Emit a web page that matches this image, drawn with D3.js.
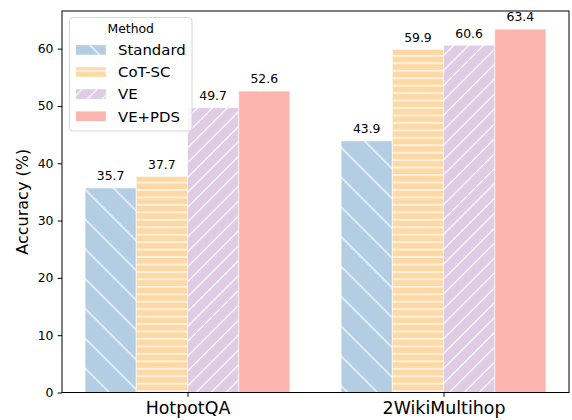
<!DOCTYPE html>
<html lang="en">
<head>
    <meta charset="UTF-8">
    <title>Accuracy by Method</title>
    <script src="https://d3js.org/d3.v7.min.js"></script>
    <style>
        body { margin: 0; background: #fff; }
        text { font-family: "DejaVu Sans", sans-serif; fill: #000; }
    </style>
</head>
<body>
    <svg width="572" height="420"></svg>
    <script>
        // data
        const datasets = ["HotpotQA", "2WikiMultihop"];
        const methods = ["Standard", "CoT-SC", "VE", "VE+PDS"];
        const standard = [35.7, 43.9];
        const cotsc = [37.7, 59.9];
        const ve = [49.7, 60.6];
        const vepds = [52.6, 63.4];
        const yTicks = [0, 10, 20, 30, 40, 50, 60];

        const series = [standard, cotsc, ve, vepds];
        const colors = ["#b3cde3", "#fed9a6", "#decbe4", "#fbb4ae"];
        const hatches = ["back", "horiz", "fwd", null];
        const barW = 0.2;

        const svg = d3.select("svg");
        const plotL = 62, plotR = 569, plotT = 11, plotB = 392.5;

        const x = d3.scaleLinear().domain([-0.49, 1.49]).range([plotL, plotR]);
        const y = d3.scaleLinear().domain([0, 66.57]).range([plotB, plotT]);

        // hatch patterns (white lines)
        const defs = svg.append("defs");
        function diag(id, spacing, angle) {
            const w = spacing / Math.SQRT2;
            const p = defs.append("pattern").attr("id", id)
                .attr("patternUnits", "userSpaceOnUse")
                .attr("width", w).attr("height", 10)
                .attr("patternTransform", `rotate(${angle})`);
            p.append("line").attr("x1", w / 2).attr("x2", w / 2)
                .attr("y1", -1).attr("y2", 11)
                .attr("stroke", "#fff").attr("stroke-width", 1.2);
        }
        diag("back", 29.8, -45);
        diag("fwd", 14.9, 45);
        const hp = defs.append("pattern").attr("id", "horiz")
            .attr("patternUnits", "userSpaceOnUse")
            .attr("width", 10).attr("height", 7.45);
        hp.append("line").attr("x1", -1).attr("x2", 11)
            .attr("y1", 3.7).attr("y2", 3.7)
            .attr("stroke", "#fff").attr("stroke-width", 1.2);

        // bars
        series.forEach((vals, i) => {
            const off = (i - 1.5) * barW;
            const g = svg.append("g");
            vals.forEach((v, j) => {
                const x0 = x(j + off - barW / 2), x1 = x(j + off + barW / 2);
                g.append("rect")
                    .attr("x", x0).attr("y", y(v))
                    .attr("width", x1 - x0).attr("height", y(0) - y(v))
                    .attr("fill", colors[i]);
                if (hatches[i]) {
                    g.append("rect")
                        .attr("x", x0).attr("y", y(v))
                        .attr("width", x1 - x0).attr("height", y(0) - y(v))
                        .attr("fill", `url(#${hatches[i]})`);
                }
                g.append("rect")
                    .attr("x", x0).attr("y", y(v))
                    .attr("width", x1 - x0).attr("height", y(0) - y(v))
                    .attr("fill", "none").attr("stroke", "#fff").attr("stroke-opacity", 0.6)
                    .attr("stroke-width", 1);
                g.append("text")
                    .attr("x", (x0 + x1) / 2).attr("y", y(v) - 7.7)
                    .attr("text-anchor", "middle")
                    .attr("font-size", 12.4)
                    .text(v.toFixed(1));
            });
        });

        // axes
        const yAxis = svg.append("g").attr("transform", `translate(${plotL},0)`)
            .call(d3.axisLeft(y).tickValues(yTicks).tickSize(4.3).tickPadding(4.3).tickFormat(d3.format("d")));
        yAxis.select(".domain").remove();
        yAxis.selectAll("text").attr("font-size", 12.4).style("font-family", "DejaVu Sans");
        yAxis.selectAll("line").attr("stroke", "#000");

        const xAxis = svg.append("g").attr("transform", `translate(0,${plotB})`)
            .call(d3.axisBottom(x).tickValues([0, 1]).tickSize(4.3).tickPadding(5).tickFormat(d => datasets[d]));
        xAxis.select(".domain").remove();
        xAxis.selectAll("text").attr("font-size", 17.4).style("font-family", "DejaVu Sans");
        xAxis.selectAll("line").attr("stroke", "#000");

        svg.append("rect")
            .attr("x", plotL).attr("y", plotT)
            .attr("width", plotR - plotL).attr("height", plotB - plotT)
            .attr("fill", "none").attr("stroke", "#000").attr("stroke-width", 1);

        svg.append("text")
            .attr("transform", `translate(28,${(plotT + plotB) / 2}) rotate(-90)`)
            .attr("text-anchor", "middle")
            .attr("font-size", 16)
            .text("Accuracy (%)");

        // legend
        const lg = svg.append("g");
        lg.append("rect")
            .attr("x", 69.5).attr("y", 17.5).attr("width", 122.5).attr("height", 113.5)
            .attr("rx", 3.5).attr("fill", "#fff").attr("fill-opacity", 0.8)
            .attr("stroke", "#d6d6d6").attr("stroke-width", 1);
        lg.append("text")
            .attr("x", 130.7).attr("y", 33.3)
            .attr("text-anchor", "middle").attr("font-size", 12.4)
            .text("Method");
        methods.forEach((m, i) => {
            const cy = 49.9 + i * 22.1;
            lg.append("rect").attr("x", 76).attr("y", cy - 4.8)
                .attr("width", 29.8).attr("height", 9.6).attr("fill", colors[i]);
            if (hatches[i]) {
                lg.append("rect").attr("x", 76).attr("y", cy - 4.8)
                    .attr("width", 29.8).attr("height", 9.6).attr("fill", `url(#${hatches[i]})`);
            }
            lg.append("text")
                .attr("x", 118).attr("y", cy + 5.3)
                .attr("font-size", 14.9)
                .text(m);
        });
    </script>
</body>
</html>
